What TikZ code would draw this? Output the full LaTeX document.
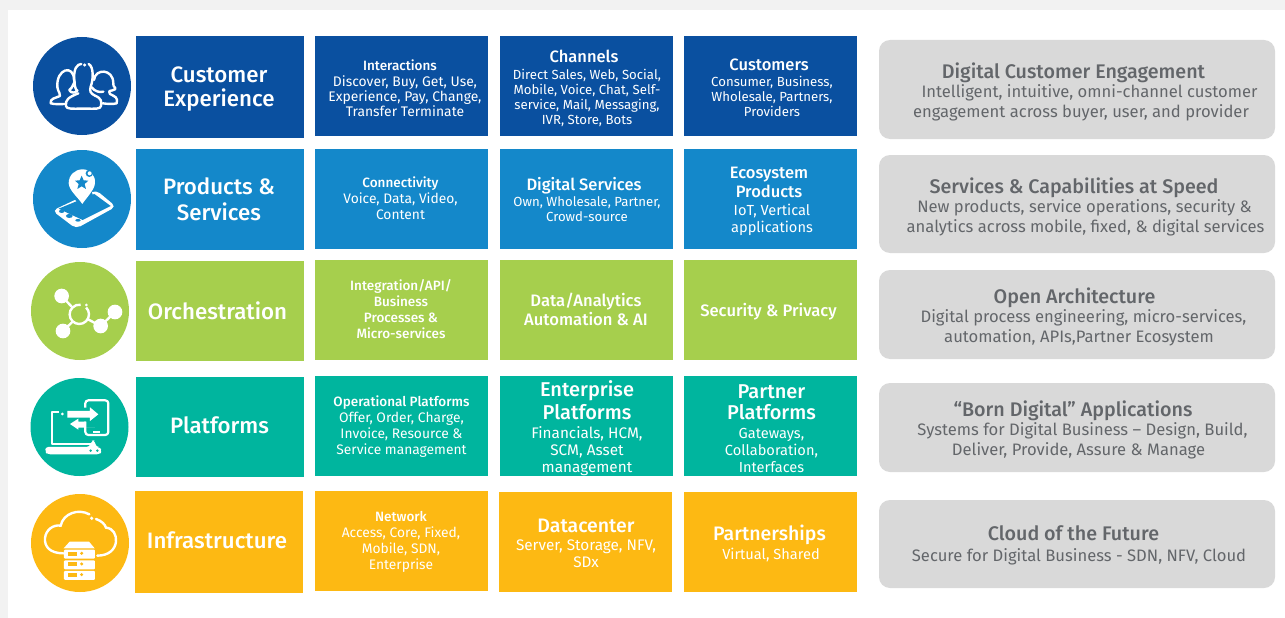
\documentclass[tikz,border=0pt]{standalone}
\usepackage{fontspec}
\setmainfont{Fira Sans}
\newfontfamily\medf[UprightFont=* Medium]{Fira Sans}
\definecolor{cA}{HTML}{0A50A0}
\definecolor{cB}{HTML}{1488CA}
\definecolor{cC}{HTML}{A6CF4D}
\definecolor{cD}{HTML}{00B59E}
\definecolor{cE}{HTML}{FDB913}
\definecolor{gbox}{HTML}{D9D9D9}
\definecolor{gtxt}{HTML}{63666A}
\definecolor{page}{HTML}{F2F2F2}
\newcommand{\fntH}{\medf\fontsize{22.3}{24}\selectfont}
\newcommand{\tS}{\medf\fontsize{13.5}{15}\selectfont}
\newcommand{\tM}{\medf\fontsize{16.5}{19}\selectfont}
\newcommand{\tT}{\medf\fontsize{16.6}{19}\selectfont}
\newcommand{\tL}{\medf\fontsize{20}{22}\selectfont}
\newcommand{\tX}{\medf\fontsize{19.5}{21}\selectfont}
\newcommand{\bA}{\fontsize{13.2}{15}\selectfont}
\newcommand{\bD}{\fontsize{13.9}{15}\selectfont}
\newcommand{\bB}{\fontsize{13.8}{16}\selectfont}
\newcommand{\bC}{\fontsize{14.6}{17}\selectfont}
\newcommand{\bF}{\fontsize{15.3}{17}\selectfont}
\newcommand{\gT}{\medf\fontsize{19.7}{20}\selectfont}
\newcommand{\gB}{\fontsize{16.6}{20}\selectfont}
\newcommand{\sh}[2]{\hspace*{\dimexpr#1pt*2\relax}#2}
\tikzset{
  panel/.style={fill=#1,draw=none},
  tag/.style={text=white,align=center,inner sep=0pt,anchor=center},
  gtag/.style={text=gtxt,align=center,inner sep=0pt,anchor=center,font=\gB},
  sidebox/.style={fill=gbox,rounded corners=11pt,draw=none},
  badge/.style={fill=#1,draw=none},
  iconline/.style={draw=white,line width=2.4pt,line cap=round,line join=round,fill=none},
}
\newcommand{\bx}[6]{\path[panel=#6] (#2,#3) rectangle (#4,#5) node[pos=.5,inner sep=0pt] (#1) {};}
\begin{document}
\begin{tikzpicture}[x=1pt,y=-1pt]
\useasboundingbox (0,0) rectangle (1285,618);
\fill[white] (0,0) rectangle (1285,618);
\fill[page] (0,0) rectangle (1285,10);
\fill[page] (0,0) rectangle (8,618);

% badges
\fill[badge=cA] (82,86) circle (49);
\fill[badge=cB] (82,199) circle (49);
\fill[badge=cC] (80,311) circle (49);
\fill[badge=cD] (79.5,427) circle (49);
\fill[badge=cE] (80,543) circle (49);

% panels
\bx{a0}{136}{36}{304}{138}{cA}
\bx{a1}{315}{36}{488}{136}{cA}
\bx{a2}{500}{36}{673}{136}{cA}
\bx{a3}{684}{36}{857}{136}{cA}
\bx{b0}{136}{149}{304}{250}{cB}
\bx{b1}{315}{149}{488}{249}{cB}
\bx{b2}{500}{149}{673}{249}{cB}
\bx{b3}{684}{149}{857}{249}{cB}
\bx{c0}{136}{261}{304}{361}{cC}
\bx{c1}{315}{260}{488}{360}{cC}
\bx{c2}{500}{260}{673}{360}{cC}
\bx{c3}{684}{260}{857}{360}{cC}
\bx{d0}{136}{377}{304}{477}{cD}
\bx{d1}{315}{376}{488}{476}{cD}
\bx{d2}{500}{376}{673}{476}{cD}
\bx{d3}{684}{376}{857}{476}{cD}
\bx{e0}{135}{491}{303}{593}{cE}
\bx{e1}{315}{491}{488}{591}{cE}
\bx{e2}{499}{492}{672}{592}{cE}
\bx{e3}{684}{492}{857}{592}{cE}

% side boxes
\path[sidebox] (879,40) rectangle (1275,139);
\path[sidebox] (879,155) rectangle (1275,253);
\path[sidebox] (879,270) rectangle (1275,359);
\path[sidebox] (879,383) rectangle (1275,472);
\path[sidebox] (879,500) rectangle (1275,588);

% first column
\node[tag,font=\fntH] (ta0) at (219,89) {Customer\\Experience};
\node[tag,font=\fntH] (tb0) at (219,199) {Products \&\\[2pt]Services};
\node[tag,font=\fntH] (tc0) at (217.5,311) {Orchestration};
\node[tag,font=\fntH] (td0) at (219.5,425.5) {Platforms};
\node[tag,font=\fntH] (te0) at (217,540.5) {Infrastructure};

% row A
\node[tag,font=\bD] (ta1) at (405,88.5) {\sh{-5}{\tS Interactions}\\[1pt]Discover, Buy, Get, Use,\\Experience, Pay, Change,\\Transfer Terminate};
\node[tag,font=\bA] (ta2) at (587,88) {\sh{-3}{\tM Channels}\\[2pt]Direct Sales, Web, Social,\\Mobile, Voice, Chat, Self-\\service, Mail, Messaging,\\IVR, Store, Bots};
\node[tag,font=\bA] (ta3) at (772,88) {\sh{-3}{\tM Customers}\\[1pt]Consumer, Business,\\Wholesale, Partners,\\Providers};
% row B
\node[tag,font=\bB] (tb1) at (400.5,198) {{\tS Connectivity}\\Voice, Data, Video,\\Content};
\node[tag,font=\bA] (tb2) at (587,200) {\sh{-3}{\tM Digital Services}\\[1pt]Own, Wholesale, Partner,\\Crowd-source};
\node[tag,font=\bC] (tb3) at (772,201) {\sh{-3}{\tM Ecosystem}\\[2pt]\sh{-3}{\tM Products}\\[1pt]IoT, Vertical\\applications};
% row C
\node[tag,font=\tS] (tc1) at (401,309.5) {Integration/API/\\[1pt]Business\\[1pt]Processes \&\\[1pt]Micro-services};
\node[tag,font=\tT] (tc2) at (586,309.5) {Data/Analytics\\Automation \& AI};
\node[tag,font=\tT] (tc3) at (768.5,311.5) {Security \& Privacy};
% row D
\node[tag,font=\bB] (td1) at (401.5,427) {{\tS Operational Platforms}\\Offer, Order, Charge,\\Invoice, Resource \&\\Service management};
\node[tag,font=\bF] (td2) at (587,428) {{\tL Enterprise}\\[2pt]{\tL Platforms}\\[2pt]Financials, HCM,\\SCM, Asset\\management};
\node[tag,font=\bC] (td3) at (771.5,428.5) {{\tL Partner}\\[4pt]{\tL Platforms}\\[2pt]Gateways,\\Collaboration,\\Interfaces};
% row E
\node[tag,font=\bB] (te1) at (401,542) {{\tS Network}\\Access, Core, Fixed,\\Mobile, SDN,\\Enterprise};
\node[tag,font=\bF] (te2) at (586,543.5) {{\tX Datacenter}\\[1pt]Server, Storage, NFV,\\SDx};
\node[tag,font=\bC] (te3) at (771,543.5) {\sh{-1.5}{\tX Partnerships}\\[2pt]Virtual, Shared};

% side texts
\node[gtag] (g1) at (1080,91.5) {\sh{-6.5}{\gT Digital Customer Engagement}\\[-1pt]\sh{9.5}{Intelligent, intuitive, omni-channel customer}\\\sh{1}{engagement across buyer, user, and provider}};
\node[gtag] (g2) at (1080,206.5) {\sh{-6}{\gT Services \& Capabilities at Speed}\\[-1pt]\sh{4.5}{New products, service operations, security \&}\\\sh{5.5}{analytics across mobile, fixed, \& digital services}};
\node[gtag] (g3) at (1080,316.5) {\sh{-5.5}{\gT Open Architecture}\\[-1pt]\sh{3.5}{Digital process engineering, micro-services,}\\\sh{-1}{automation, APIs,Partner Ecosystem}};
\node[gtag] (g4) at (1080,429.5) {\sh{-7}{\gT “Born Digital” Applications}\\[-1pt]\sh{2.5}{Systems for Digital Business – Design, Build,}\\\sh{-1.5}{Deliver, Provide, Assure \& Manage}};
\node[gtag] (g5) at (1079,545) {\sh{-5.5}{\gT Cloud of the Future}\\[1pt]Secure for Digital Business - SDN, NFV, Cloud};

% icon 1: people
\begin{scope}[x=.3333pt,y=-.3333pt]
\draw[iconline] (172,262) .. controls (168,205) and (222,192) .. (222,240);
\draw[iconline] (172,262) .. controls (176,280) and (182,280) .. (180,288) .. controls (165,295) and (150,295) .. (152,310) .. controls (165,314) and (185,312) .. (197,312);
\draw[iconline] (224,245) .. controls (215,265) and (212,268) .. (208,270) .. controls (212,280) and (225,280) .. (232,272) .. controls (226,268) and (224,258) .. (224,245);
\draw[iconline] (224,250) .. controls (218,205) and (232,192) .. (244,192);
\draw[iconline] (266,192) .. controls (282,200) and (280,240) .. (272,260) .. controls (268,275) and (272,280) .. (285,287) .. controls (305,295) and (305,305) .. (303,318) .. controls (300,328) and (290,326) .. (250,326) .. controls (215,326) and (200,328) .. (198,318) .. controls (195,300) and (205,292) .. (235,280);
\fill[white] (254,195) circle (5);
\draw[iconline] (282,240) .. controls (285,205) and (340,205) .. (340,250) .. controls (338,262) and (350,262) .. (345,268) .. controls (335,275) and (322,268) .. (330,282) .. controls (345,290) and (355,292) .. (350,310) .. controls (340,313) and (322,312) .. (308,310);
\draw[iconline] (275,262) .. controls (285,275) and (300,278) .. (310,275);
\end{scope}

% icon 2: phone and pin
\begin{scope}[x=.3333pt,y=-.3333pt]
\fill[white,rounded corners=5pt] (157,632) -- (288,570) -- (348,620) -- (228,686) -- cycle;
\fill[cB] (176,626) -- (283,582) -- (332,618) -- (248,660) -- (205,640) -- cycle;
\fill[cB] (185,634) circle [x radius=8,y radius=5];
\fill[cB] (208,648) circle [x radius=10,y radius=6];
\fill[cB] (234,661) circle [x radius=8,y radius=4];
\fill[cB] (220,592) -- (272,565) -- (280,590) -- (248,628) -- cycle;
\fill[white] (206,550) .. controls (206,525) and (225,508) .. (248,508) .. controls (272,508) and (287,528) .. (285,550) .. controls (283,570) and (262,590) .. (247,612) .. controls (232,590) and (208,572) .. (206,550) -- cycle;
\fill[cB] (268,520) circle (11);
\fill[white] (269,520) circle (6);
\fill[cB] (245,527) -- (251,541) -- (265,542) -- (254,552) -- (258,567) -- (245,559) -- (232,567) -- (236,552) -- (225,542) -- (239,541) -- cycle;
\end{scope}

% icon 3: molecule
\begin{scope}[x=.3333pt,y=-.3333pt,yshift=-255pt]
\fill[white] (185,123) circle (22);
\fill[white] (189,228) circle (22);
\fill[white] (302,213) circle (22);
\fill[white] (345,171) circle (22);
\draw[white,line width=2.4pt] (185,123) -- (215,155);
\draw[white,line width=2.4pt] (189,228) -- (218,200);
\draw[white,line width=2.4pt] (262,192) -- (302,213) -- (345,171);
\draw[white,line width=2.4pt] (238,178) ++(-45:29) arc [start angle=-45,end angle=278,radius=29];
\fill[white] (259,150) circle (4.5);
\end{scope}

% icon 4: devices
\begin{scope}[x=.3333pt,y=-.3333pt,yshift=-255pt]
\draw[white,line width=2.2pt,line join=round] (176,470) -- (156,470) -- (156,566) -- (272,566);
\fill[white] (187,477) circle (4.5);
\fill[white,rounded corners=3pt] (136,576) -- (268,576) -- (276,556) -- (284,556) -- (288,576) -- (300,576) -- (305,588) -- (300,598) -- (142,598) -- (136,590) -- cycle;
\fill[cD] (272,587) circle (4);
\fill[cD] (292,587) circle (4);
\fill[white] (202,468) -- (270,468) -- (270,457) -- (295,478) -- (270,498) -- (270,488) -- (202,488) -- cycle;
\fill[white] (285,518) -- (235,518) -- (235,524) -- (210,507) -- (235,491) -- (235,500) -- (258,500) -- (258,518) -- cycle;
\draw[white,line width=2.2pt,line join=round,rounded corners=3pt] (256,458) -- (256,436) -- (325,436) -- (325,540) -- (256,540) -- (256,500);
\fill[white] (278,528) rectangle (300,533);
\end{scope}

% icon 5: cloud and server
\begin{scope}[x=.3333pt,y=-.3333pt,yshift=-255pt]
\draw[white,line width=2.4pt,line cap=round] (190,895) .. controls (150,895) and (133,875) .. (135,850) .. controls (137,825) and (160,808) .. (182,812) .. controls (190,775) and (235,760) .. (268,778);
\draw[white,line width=2.4pt,line cap=round] (288,792) .. controls (305,798) and (315,808) .. (318,818) .. controls (340,820) and (350,840) .. (348,860) .. controls (345,885) and (325,902) .. (292,902);
\fill[white] (275,790) circle (5.5);
\fill[white] (191,880) -- (209,860) -- (267,860) -- (284,880) -- cycle;
\foreach \yy in {884,916,948} {
  \fill[white,rounded corners=1pt] (192,\yy) rectangle (285,\yy+27);
  \fill[cE] (203,\yy+6) rectangle (232,\yy+18);
  \fill[cE] (245,\yy+11) circle (5);
}
\end{scope}
\end{tikzpicture}
\end{document}
